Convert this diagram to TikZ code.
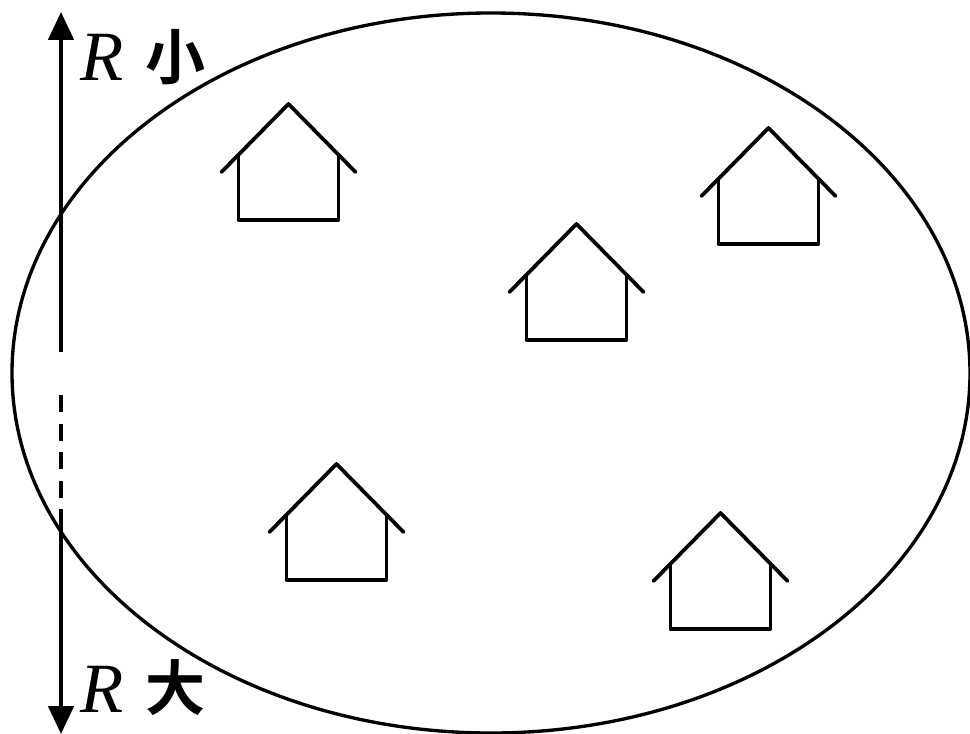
\documentclass[tikz,border=0pt]{standalone}
\usepackage{fontspec}
\setmainfont{Liberation Serif}
\newfontfamily\cjk{Noto Sans CJK SC Bold}
\usetikzlibrary{arrows.meta}
\tikzset{
  ln/.style={line width=2.8pt,black,line cap=round,line join=round},
  axis ln/.style={line width=2.9pt,black},
  ell ln/.style={line width=2.5pt,black},
  rlabel/.style={anchor=center,inner sep=0pt,font=\fontsize{53pt}{54pt}\selectfont\itshape},
  zlabel/.style={anchor=center,inner sep=0pt,font=\fontsize{45pt}{46pt}\selectfont\cjk},
  tip/.style={-{Triangle[length=21pt,width=19pt]}}
}
\newcommand{\house}[2]{%
\begin{scope}[shift={(#1,#2)}]
\draw[ln] (-67.5,68) -- (-0.5,0) -- (66.5,68);
\draw[ln] (-50.5,51) -- (-50.5,116) -- (49.5,116) -- (49.5,51);
\end{scope}}
\begin{document}
\begin{tikzpicture}[x=0.75pt,y=-0.75pt]
\useasboundingbox (0,0) rectangle (970,734);
\coordinate (c) at (491,373);
\draw[ell ln] (c) ellipse [x radius=479,y radius=360];
\coordinate (t) at (61,12);
\coordinate (a) at (61,352);
\coordinate (b) at (61,395);
\coordinate (d) at (61,509);
\coordinate (e) at (61,734);
\draw[axis ln,tip] (a) -- (t);
\draw[axis ln,dash pattern=on 12.8pt off 8.6pt] (b) -- (d);
\draw[axis ln,tip] (d) -- (e);
\node[rlabel] (r1) at (102,57) {R};
\node[zlabel] (x) at (175,57) {小};
\node[rlabel] (r2) at (102,689) {R};
\node[zlabel] (y) at (175,688) {大};
\house{289}{104}
\house{769}{128}
\house{577}{224}
\house{337}{464}
\house{721}{513}
\end{tikzpicture}
\end{document}
